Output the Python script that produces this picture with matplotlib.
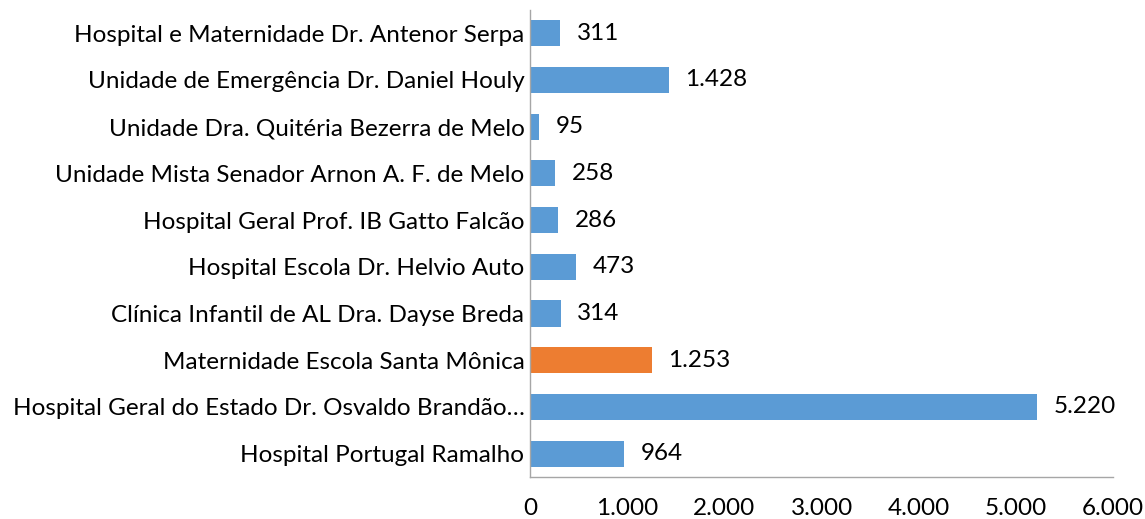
import matplotlib.pyplot as plt

# dados (de cima para baixo, como no gráfico)
unidades = [
    "Hospital e Maternidade Dr. Antenor Serpa",
    "Unidade de Emergência Dr. Daniel Houly",
    "Unidade Dra. Quitéria Bezerra de Melo",
    "Unidade Mista Senador Arnon A. F. de Melo",
    "Hospital Geral Prof. IB Gatto Falcão",
    "Hospital Escola Dr. Helvio Auto",
    "Clínica Infantil de AL Dra. Dayse Breda",
    "Maternidade Escola Santa Mônica",
    "Hospital Geral do Estado Dr. Osvaldo Brandão…",
    "Hospital Portugal Ramalho",
]
valores = [311, 1428, 95, 258, 286, 473, 314, 1253, 5220, 964]
destaque = "Maternidade Escola Santa Mônica"

ticks_x = [0, 1000, 2000, 3000, 4000, 5000, 6000]


def fmt(v):
    return f"{v:,}".replace(",", ".")


plt.rcParams['font.family'] = ['Lato', 'DejaVu Sans']
fs = 17.5

fig = plt.figure(figsize=(11.45, 5.19), dpi=100)
ax = fig.add_axes([0.4629, 0.081, 0.5093, 0.900])

cores = ['#ED7D31' if u == destaque else '#5B9BD5' for u in unidades]
pos = list(range(len(unidades)))
ax.barh(pos, valores, height=0.56, color=cores)

for p, v in zip(pos, valores):
    ax.annotate(fmt(v), (v, p), xytext=(12, 0), textcoords='offset points',
                ha='left', va='center', fontsize=fs, color='#000000')

ax.set_xlim(0, 6000)
ax.set_ylim(len(unidades) - 0.5, -0.5)
ax.set_yticks(pos)
ax.set_yticklabels(unidades, fontsize=fs)
ax.set_xticks(ticks_x)
ax.set_xticklabels([fmt(t) for t in ticks_x], fontsize=fs)
ax.tick_params(axis='both', length=0)
ax.tick_params(axis='x', pad=15)
ax.tick_params(axis='y', pad=4)

for s in ['top', 'right']:
    ax.spines[s].set_visible(False)
for s in ['left', 'bottom']:
    ax.spines[s].set_color('#A6A6A6')
    ax.spines[s].set_linewidth(1.0)

fig.savefig('out.png', dpi=100)
